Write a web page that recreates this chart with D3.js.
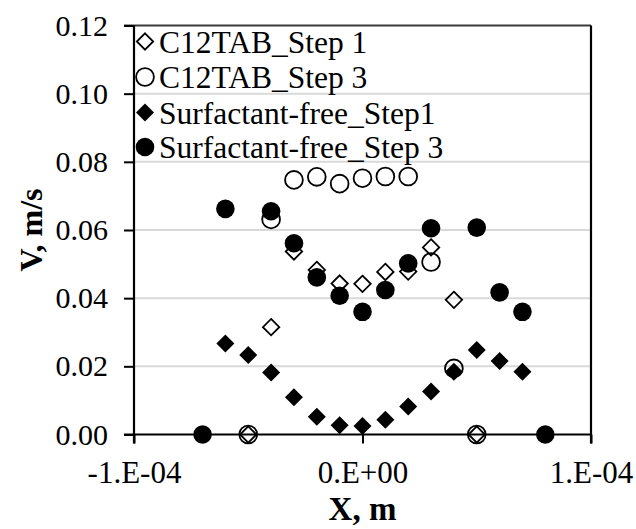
<!DOCTYPE html>
<html>
<head>
<meta charset="utf-8">
<script src="https://cdn.jsdelivr.net/npm/d3@7"></script>
<style>
  html, body { margin: 0; padding: 0; background: #fff; }
  svg { display: block; font-family: "Liberation Serif", "Times New Roman", serif; }
</style>
</head>
<body>
<svg id="chart" width="636" height="529"></svg>
<script>
// ---- Data ----
const seriesNames = ["C12TAB_Step 1", "C12TAB_Step 3", "Surfactant-free_Step1", "Surfactant-free_Step 3"];

const c12Step1X = [-5e-5, -4e-5, -3e-5, -2e-5, -1e-5, 0, 1e-5, 2e-5, 3e-5, 4e-5, 5e-5];
const c12Step1V = [0, 0.0315, 0.0537, 0.0483, 0.0443, 0.0442, 0.0477, 0.0478, 0.0549, 0.0395, 0];

const c12Step3X = [-5e-5, -4e-5, -3e-5, -2e-5, -1e-5, 0, 1e-5, 2e-5, 3e-5, 4e-5, 5e-5];
const c12Step3V = [0, 0.0631, 0.0747, 0.0756, 0.0736, 0.0752, 0.0757, 0.0757, 0.0506, 0.0194, 0];

const sfStep1X = [-6e-5, -5e-5, -4e-5, -3e-5, -2e-5, -1e-5, 0, 1e-5, 2e-5, 3e-5, 4e-5, 5e-5, 6e-5, 7e-5];
const sfStep1V = [0.0267, 0.0233, 0.0182, 0.0109, 0.0052, 0.0027, 0.0025, 0.0043, 0.0082, 0.0126, 0.0184, 0.0248, 0.0216, 0.0184];

const sfStep3X = [-7e-5, -6e-5, -4e-5, -3e-5, -2e-5, -1e-5, 0, 1e-5, 2e-5, 3e-5, 5e-5, 6e-5, 7e-5, 8e-5];
const sfStep3V = [0, 0.0662, 0.0655, 0.0561, 0.0461, 0.0407, 0.0360, 0.0424, 0.0502, 0.0605, 0.0607, 0.0417, 0.0360, 0];

const xTickValues = [-1e-4, 0, 1e-4];
const xTickLabels = ["-1.E-04", "0.E+00", "1.E-04"];
const yTickValues = [0, 0.02, 0.04, 0.06, 0.08, 0.10, 0.12];
const yTickLabels = ["0.00", "0.02", "0.04", "0.06", "0.08", "0.10", "0.12"];
const xTitle = "X, m";
const yTitle = "V, m/s";

// ---- Layout ----
const svg = d3.select("#chart");
const plot = { left: 134, right: 591, top: 25.5, bottom: 434.5 };
const x = d3.scaleLinear().domain([-1e-4, 1e-4]).range([plot.left, plot.right]);
const y = d3.scaleLinear().domain([0, 0.12]).range([plot.bottom, plot.top]);

const FONT_FAMILY = '"Liberation Serif", "Times New Roman", serif';

// gridlines
svg.append("g").selectAll("line")
  .data(yTickValues.slice(1, -1))
  .join("line")
  .attr("x1", plot.left).attr("x2", plot.right)
  .attr("y1", d => y(d)).attr("y2", d => y(d))
  .attr("stroke", "#d9d9d9").attr("stroke-width", 2);

// top border
svg.append("line")
  .attr("x1", plot.left - 10).attr("x2", plot.right)
  .attr("y1", y(0.12)).attr("y2", y(0.12))
  .attr("stroke", "#3a3a3a").attr("stroke-width", 2);

// right border
svg.append("line")
  .attr("x1", plot.right).attr("x2", plot.right)
  .attr("y1", plot.top).attr("y2", plot.bottom + 9)
  .attr("stroke", "#000").attr("stroke-width", 2.2);

// y axis
const yAxis = d3.axisLeft(y).tickValues(yTickValues)
  .tickFormat((d, i) => yTickLabels[i]).tickSize(10).tickPadding(16);
const gy = svg.append("g").attr("transform", `translate(${plot.left},0)`).call(yAxis);
gy.select(".domain").remove();
gy.selectAll(".tick line").attr("stroke", "#000").attr("stroke-width", 2);
gy.selectAll(".tick text").attr("font-size", 30).attr("fill", "#000")
  .style("font-family", FONT_FAMILY);
gy.append("line").attr("x1", 0).attr("x2", 0)
  .attr("y1", plot.top).attr("y2", plot.bottom + 9)
  .attr("stroke", "#000").attr("stroke-width", 2.2);

// x axis
const xAxis = d3.axisBottom(x).tickValues(xTickValues)
  .tickFormat((d, i) => xTickLabels[i]).tickSize(9).tickPadding(17);
const gx = svg.append("g").attr("transform", `translate(0,${plot.bottom})`).call(xAxis);
gx.select(".domain").remove();
gx.selectAll(".tick line").attr("stroke", "#000").attr("stroke-width", 2);
gx.selectAll(".tick text").attr("font-size", 31).attr("fill", "#000")
  .style("font-family", FONT_FAMILY);
gx.append("line").attr("x1", plot.left - 10).attr("x2", plot.right)
  .attr("y1", 0).attr("y2", 0).attr("stroke", "#000").attr("stroke-width", 2.2);

// axis titles
svg.append("text").attr("x", (plot.left + plot.right) / 2).attr("y", 520)
  .attr("text-anchor", "middle").attr("font-size", 33).attr("font-weight", "bold")
  .text(xTitle);
svg.append("text")
  .attr("transform", `translate(${42},${(plot.top + plot.bottom) / 2}) rotate(-90)`)
  .attr("text-anchor", "middle").attr("font-size", 32).attr("font-weight", "bold")
  .text(yTitle);

// ---- Markers ----
const diamond = r => `M0,${-r}L${r},0L0,${r}L${-r},0Z`;
function drawMarker(g, type, cx, cy) {
  if (type === "openDiamond") {
    g.append("path").attr("d", diamond(8.2)).attr("transform", `translate(${cx},${cy})`)
      .attr("fill", "none").attr("stroke", "#000").attr("stroke-width", 1.8);
  } else if (type === "openCircle") {
    g.append("circle").attr("cx", cx).attr("cy", cy).attr("r", 8.9)
      .attr("fill", "none").attr("stroke", "#000").attr("stroke-width", 1.8);
  } else if (type === "filledDiamond") {
    g.append("path").attr("d", diamond(9)).attr("transform", `translate(${cx},${cy})`)
      .attr("fill", "#000");
  } else {
    g.append("circle").attr("cx", cx).attr("cy", cy).attr("r", 9.3).attr("fill", "#000");
  }
}

const series = [
  { xs: c12Step1X, vs: c12Step1V, type: "openDiamond" },
  { xs: c12Step3X, vs: c12Step3V, type: "openCircle" },
  { xs: sfStep1X, vs: sfStep1V, type: "filledDiamond" },
  { xs: sfStep3X, vs: sfStep3V, type: "filledCircle" }
];

const gm = svg.append("g");
series.forEach(s => {
  s.xs.forEach((xv, i) => drawMarker(gm, s.type, x(xv), y(s.vs[i])));
});

// ---- Legend ----
const legendRows = [41.5, 77, 112.5, 147];
const gl = svg.append("g");
series.forEach((s, i) => {
  drawMarker(gl, s.type, 145, legendRows[i]);
  gl.append("text").attr("x", 159).attr("y", legendRows[i])
    .attr("dy", "0.35em").attr("font-size", 31.5).text(seriesNames[i]);
});
</script>
</body>
</html>
